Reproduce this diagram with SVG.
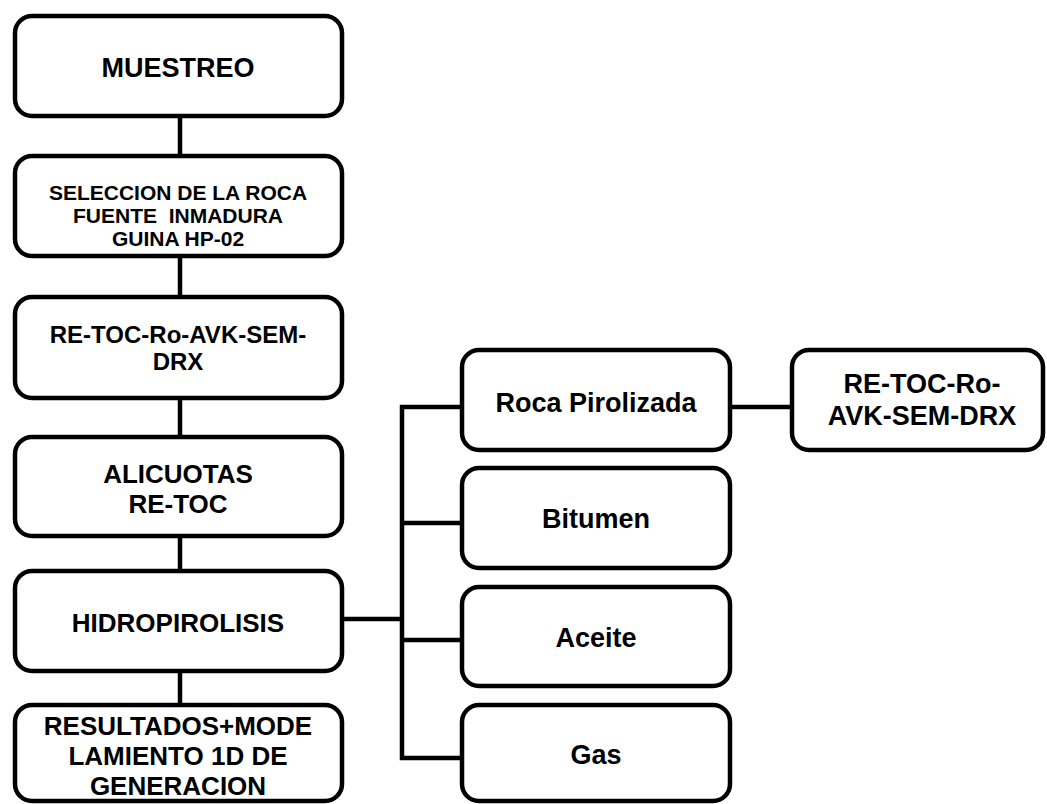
<svg xmlns="http://www.w3.org/2000/svg" width="1047" height="804" viewBox="0 0 1047 804">
<style>
.box{fill:#fff;stroke:#000;stroke-width:4.5}
.t{font-family:"Liberation Sans",Arial,sans-serif;font-weight:bold;fill:#000;text-anchor:middle}
.c{fill:none;stroke:#000;stroke-width:4.5}
</style>
<rect width="1047" height="804" fill="#fff"/>
<g id="connectors">
<line class="c" x1="180" y1="116" x2="180" y2="156"/>
<line class="c" x1="180" y1="256" x2="180" y2="297"/>
<line class="c" x1="180" y1="398" x2="180" y2="437"/>
<line class="c" x1="180" y1="536" x2="180" y2="571"/>
<line class="c" x1="180" y1="671" x2="180" y2="705"/>
<line class="c" x1="344" y1="619" x2="402" y2="619"/>
<polyline class="c" points="461,407 402,407 402,758 461,758"/>
<line class="c" x1="402" y1="523" x2="461" y2="523"/>
<line class="c" x1="402" y1="640" x2="461" y2="640"/>
<line class="c" x1="731" y1="407" x2="791" y2="407"/>
</g>
<g id="muestreo">
<rect class="box" x="15" y="16" width="327" height="100" rx="17"/>
<text class="t" x="178" y="77" font-size="27">MUESTREO</text>
</g>
<g id="seleccion">
<rect class="box" x="15" y="156" width="327" height="100" rx="17"/>
<text class="t" x="178" y="200" font-size="21">SELECCION DE LA ROCA</text>
<text class="t" x="178" y="223" font-size="21" xml:space="preserve">FUENTE  INMADURA</text>
<text class="t" x="178" y="246" font-size="21">GUINA HP-02</text>
</g>
<g id="analisis">
<rect class="box" x="15" y="297" width="327" height="101" rx="17"/>
<text class="t" x="178" y="343" font-size="24">RE-TOC-Ro-AVK-SEM-</text>
<text class="t" x="178" y="370" font-size="24">DRX</text>
</g>
<g id="alicuotas">
<rect class="box" x="15" y="437" width="327" height="99" rx="17"/>
<text class="t" x="178" y="483" font-size="26">ALICUOTAS</text>
<text class="t" x="178" y="513" font-size="26">RE-TOC</text>
</g>
<g id="hidropirolisis">
<rect class="box" x="15" y="571" width="327" height="100" rx="17"/>
<text class="t" x="178" y="632" font-size="26">HIDROPIROLISIS</text>
</g>
<g id="resultados">
<rect class="box" x="15" y="705" width="327" height="96" rx="17"/>
<text class="t" x="178" y="735" font-size="26">RESULTADOS+MODE</text>
<text class="t" x="178" y="765" font-size="26">LAMIENTO 1D DE</text>
<text class="t" x="178" y="795" font-size="26">GENERACION</text>
</g>
<g id="roca-pirolizada">
<rect class="box" x="462" y="350" width="268" height="100" rx="17"/>
<text class="t" x="596" y="412" font-size="27">Roca Pirolizada</text>
</g>
<g id="bitumen">
<rect class="box" x="462" y="468" width="268" height="100" rx="17"/>
<text class="t" x="596" y="528" font-size="27">Bitumen</text>
</g>
<g id="aceite">
<rect class="box" x="462" y="587" width="268" height="99" rx="17"/>
<text class="t" x="596" y="647" font-size="27">Aceite</text>
</g>
<g id="gas">
<rect class="box" x="462" y="705" width="268" height="96" rx="17"/>
<text class="t" x="596" y="764" font-size="27">Gas</text>
</g>
<g id="analisis-roca">
<rect class="box" x="792" y="350" width="251" height="100" rx="17"/>
<text class="t" x="922" y="393" font-size="27">RE-TOC-Ro-</text>
<text class="t" x="922" y="425" font-size="27">AVK-SEM-DRX</text>
</g>
</svg>
